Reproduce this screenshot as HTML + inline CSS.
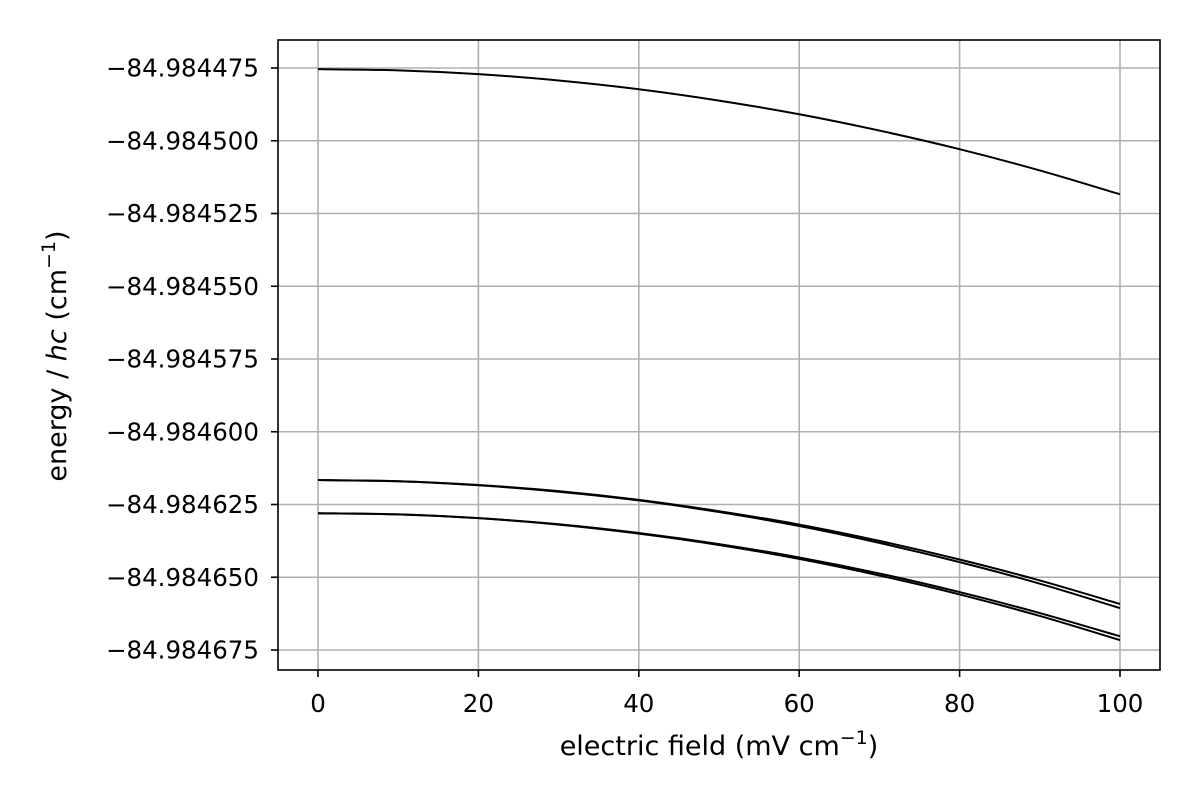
<!DOCTYPE html>
<html><head><meta charset="utf-8"><style>
html,body{margin:0;padding:0;background:#fff;}
svg text{font-family:"DejaVu Sans","Liberation Sans",sans-serif;fill:#000;}
</style></head><body>
<svg id="chart" width="1200" height="800" viewBox="0 0 1200 800" xmlns="http://www.w3.org/2000/svg">
<g id="grid"></g>
<g id="series"></g>
<rect x="278" y="40" width="882" height="630" fill="none" stroke="#000" stroke-width="1.6"/>
<g id="ticks"></g>
<text x="719" y="755" style="font-size:27px" text-anchor="middle">electric field (mV cm<tspan style="font-size:19px" dy="-11">−1</tspan><tspan dy="11">)</tspan></text>
<text transform="translate(66,356) rotate(-90)" style="font-size:27px" text-anchor="middle">energy / <tspan font-style="italic">hc</tspan> (cm<tspan style="font-size:19px" dy="-11">−1</tspan><tspan dy="11">)</tspan></text>
</svg>
<script>
const fieldValues = [0,10,20,30,40,50,60,70,80,90,100];
const seriesTop = [-84.9844754,-84.9844758,-84.9844771,-84.9844793,-84.9844823,-84.9844862,-84.9844909,-84.9844965,-84.9845029,-84.9845102,-84.9845184];
const seriesMidA = [-84.9846166,-84.9846170,-84.9846183,-84.9846204,-84.9846234,-84.9846273,-84.9846319,-84.9846375,-84.9846439,-84.9846511,-84.9846592];
const seriesMidB = [-84.9846166,-84.9846170,-84.9846184,-84.9846206,-84.9846236,-84.9846276,-84.9846324,-84.9846382,-84.9846448,-84.9846522,-84.9846606];
const seriesBotA = [-84.9846280,-84.9846284,-84.9846297,-84.9846318,-84.9846348,-84.9846386,-84.9846432,-84.9846487,-84.9846551,-84.9846623,-84.9846703];
const seriesBotB = [-84.9846280,-84.9846284,-84.9846297,-84.9846319,-84.9846350,-84.9846389,-84.9846437,-84.9846494,-84.9846559,-84.9846633,-84.9846716];
const xTicks = [0,20,40,60,80,100];
const yTicks = [-84.984475,-84.9845,-84.984525,-84.98455,-84.984575,-84.9846,-84.984625,-84.98465,-84.984675];
const yTickLabels = ["−84.984475","−84.984500","−84.984525","−84.984550","−84.984575","−84.984600","−84.984625","−84.984650","−84.984675"];

const NS="http://www.w3.org/2000/svg";
function xs(v){return 318+(v-0)*(1120-318)/100;}
function ys(v){return 68+(-84.984475-v)*(650-68)/0.0002;}
function mk(t,a,p){const e=document.createElementNS(NS,t);for(const k in a)e.setAttribute(k,a[k]);p.appendChild(e);return e;}
const grid=document.getElementById('grid'),ticks=document.getElementById('ticks'),ser=document.getElementById('series');
xTicks.forEach(v=>{
  const x=xs(v);
  const g=mk('line',{x1:x,x2:x,y1:40,y2:670,stroke:'#b0b0b0','stroke-width':1.6},grid);
  
  
  const t=mk('line',{x1:x,x2:x,y1:670,y2:677,stroke:'#000','stroke-width':1.6},ticks);
  
  
  const l=mk('text',{x:x,y:712,style:'font-size:24.5px','text-anchor':'middle'},ticks);l.textContent=v;
  
  
});
yTicks.forEach((v,i)=>{
  const y=ys(v);
  const g=mk('line',{x1:278,x2:1160,y1:y,y2:y,stroke:'#b0b0b0','stroke-width':1.6},grid);
  
  
  const t=mk('line',{x1:271,x2:278,y1:y,y2:y,stroke:'#000','stroke-width':1.6},ticks);
  
  
  const l=mk('text',{x:259,y:y+8.5,style:'font-size:24.5px','text-anchor':'end'},ticks);l.textContent=yTickLabels[i];
  
  
});
function smoothPath(pts){
  let d='M'+pts[0][0].toFixed(2)+','+pts[0][1].toFixed(2);
  for(let i=0;i<pts.length-1;i++){
    const p0=pts[Math.max(0,i-1)],p1=pts[i],p2=pts[i+1],p3=pts[Math.min(pts.length-1,i+2)];
    const c1=[p1[0]+(p2[0]-p0[0])/6,p1[1]+(p2[1]-p0[1])/6];
    const c2=[p2[0]-(p3[0]-p1[0])/6,p2[1]-(p3[1]-p1[1])/6];
    d+=' C'+c1[0].toFixed(2)+','+c1[1].toFixed(2)+' '+c2[0].toFixed(2)+','+c2[1].toFixed(2)+' '+p2[0].toFixed(2)+','+p2[1].toFixed(2);
  }
  return d;
}
[seriesTop,seriesMidA,seriesMidB,seriesBotA,seriesBotB].forEach((s,i)=>{
  const pts=s.map((v,j)=>[xs(fieldValues[j]),ys(v)]);
  const p=mk('path',{d:smoothPath(pts),fill:'none',stroke:'#000','stroke-width':2},ser);
  
  
});
</script>
</body></html>
